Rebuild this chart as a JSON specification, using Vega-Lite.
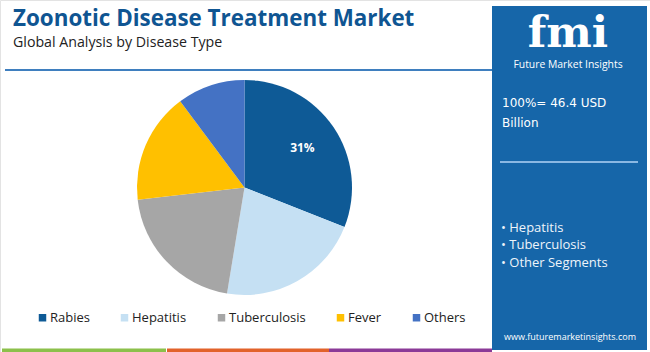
{
  "$schema": "https://vega.github.io/schema/vega-lite/v6.json",
  "width": 650,
  "height": 352,
  "padding": 0,
  "autosize": {"type": "none"},
  "background": "white",
  "title": {
    "text": "Zoonotic Disease Treatment Market",
    "subtitle": "Global Analysis by Disease Type",
    "anchor": "start",
    "frame": "group",
    "orient": "top",
    "offset": -50,
    "dx": 13,
    "font": "Open Sans",
    "fontSize": 22.4,
    "fontWeight": "bold",
    "color": "#0f5592",
    "subtitleFont": "Open Sans",
    "subtitleFontSize": 14.2,
    "subtitleColor": "#222222",
    "subtitlePadding": 5
  },
  "config": {"view": {"stroke": "#e3e3e3"}},
  "layer": [
    {
      "data": {"values": [{}]},
      "mark": {"type": "rule", "color": "#3f7fbf", "strokeWidth": 2},
      "encoding": {"x": {"value": 5}, "x2": {"value": 492}, "y": {"value": 70}}
    },
    {
      "data": {"values": [{}]},
      "mark": {"type": "rect", "color": "#1666a9"},
      "encoding": {"x": {"value": 492}, "x2": {"value": 647}, "y": {"value": 6}, "y2": {"value": 350}}
    },
    {
      "data": {"values": [{}]},
      "mark": {"type": "text", "text": "fmi", "font": "DejaVu Serif", "fontWeight": "bold", "fontSize": 43, "color": "white", "align": "center", "baseline": "alphabetic"},
      "encoding": {"x": {"value": 568}, "y": {"value": 47}}
    },
    {
      "data": {"values": [{}]},
      "mark": {"type": "text", "text": "Future Market Insights", "font": "Open Sans", "fontSize": 10.4, "color": "white", "align": "center", "baseline": "middle"},
      "encoding": {"x": {"value": 568}, "y": {"value": 65}}
    },
    {
      "data": {"values": [{}]},
      "mark": {"type": "text", "text": "100%= 46.4 USD", "font": "DejaVu Sans", "fontSize": 12, "color": "white", "align": "left", "baseline": "middle"},
      "encoding": {"x": {"value": 502}, "y": {"value": 103}}
    },
    {
      "data": {"values": [{}]},
      "mark": {"type": "text", "text": "Billion", "font": "DejaVu Sans", "fontSize": 12, "color": "white", "align": "left", "baseline": "middle"},
      "encoding": {"x": {"value": 502}, "y": {"value": 122.5}}
    },
    {
      "data": {"values": [{}]},
      "mark": {"type": "rule", "color": "#8ab8e3", "strokeWidth": 2},
      "encoding": {"x": {"value": 500}, "x2": {"value": 638}, "y": {"value": 162}}
    },
    {
      "data": {"values": [{}]},
      "mark": {"type": "text", "text": "• Hepatitis", "font": "Open Sans", "fontSize": 13, "color": "#eef4fa", "align": "left", "baseline": "middle"},
      "encoding": {"x": {"value": 501}, "y": {"value": 228}}
    },
    {
      "data": {"values": [{}]},
      "mark": {"type": "text", "text": "• Tuberculosis", "font": "Open Sans", "fontSize": 13, "color": "#eef4fa", "align": "left", "baseline": "middle"},
      "encoding": {"x": {"value": 501}, "y": {"value": 245}}
    },
    {
      "data": {"values": [{}]},
      "mark": {"type": "text", "text": "• Other Segments", "font": "Open Sans", "fontSize": 13, "color": "#eef4fa", "align": "left", "baseline": "middle"},
      "encoding": {"x": {"value": 501}, "y": {"value": 262.5}}
    },
    {
      "data": {"values": [{}]},
      "mark": {"type": "text", "text": "www.futuremarketinsights.com", "font": "Open Sans", "fontSize": 9, "color": "white", "align": "center", "baseline": "middle"},
      "encoding": {"x": {"value": 570}, "y": {"value": 337}}
    },
    {
      "data": {"values": [{}]},
      "mark": {"type": "rect", "color": "#8cc04b"},
      "encoding": {"x": {"value": 2}, "x2": {"value": 166}, "y": {"value": 348.5}, "y2": {"value": 352}}
    },
    {
      "data": {"values": [{}]},
      "mark": {"type": "rect", "color": "#e2622b"},
      "encoding": {"x": {"value": 167}, "x2": {"value": 329}, "y": {"value": 348.5}, "y2": {"value": 352}}
    },
    {
      "data": {"values": [{}]},
      "mark": {"type": "rect", "color": "#8b3a97"},
      "encoding": {"x": {"value": 329}, "x2": {"value": 492}, "y": {"value": 348.5}, "y2": {"value": 352}}
    },
    {
      "data": {"name": "pie"},
      "mark": {"type": "arc", "outerRadius": 107.5},
      "encoding": {
        "x": {"value": 244.5},
        "y": {"value": 187.5},
        "theta": {"field": "share", "type": "quantitative", "stack": true},
        "order": {"field": "share", "type": "quantitative", "sort": "descending"},
        "color": {
          "field": "segment",
          "type": "nominal",
          "scale": {"domain": ["Rabies", "Hepatitis", "Tuberculosis", "Fever", "Others"], "range": ["#0e5a96", "#c5e0f3", "#a6a6a6", "#ffc000", "#4472c4"]},
          "legend": {
            "title": null,
            "orient": "none",
            "legendX": 36,
            "legendY": 311,
            "direction": "horizontal",
            "symbolType": "square",
            "symbolSize": 56,
            "symbolStrokeWidth": 0,
            "labelFont": "Open Sans",
            "labelFontSize": 13,
            "labelColor": "#222222",
            "labelOffset": 1,
            "columnPadding": 28,
            "padding": 0
          }
        }
      }
    },
    {
      "data": {"name": "pie"},
      "mark": {"type": "text", "radius": 70, "font": "Open Sans", "fontWeight": "bold", "fontSize": 12, "color": "white"},
      "encoding": {
        "x": {"value": 244.5},
        "y": {"value": 187.5},
        "theta": {"field": "share", "type": "quantitative", "stack": true},
        "order": {"field": "share", "type": "quantitative", "sort": "descending"},
        "text": {"field": "label", "type": "nominal"}
      }
    }
  ],
  "datasets": {
    "pie": [
      {"segment": "Rabies", "share": 31, "label": "31%"},
      {"segment": "Hepatitis", "share": 21.6, "label": ""},
      {"segment": "Tuberculosis", "share": 20.6, "label": ""},
      {"segment": "Fever", "share": 16.6, "label": ""},
      {"segment": "Others", "share": 10.2, "label": ""}
    ]
  }
}
